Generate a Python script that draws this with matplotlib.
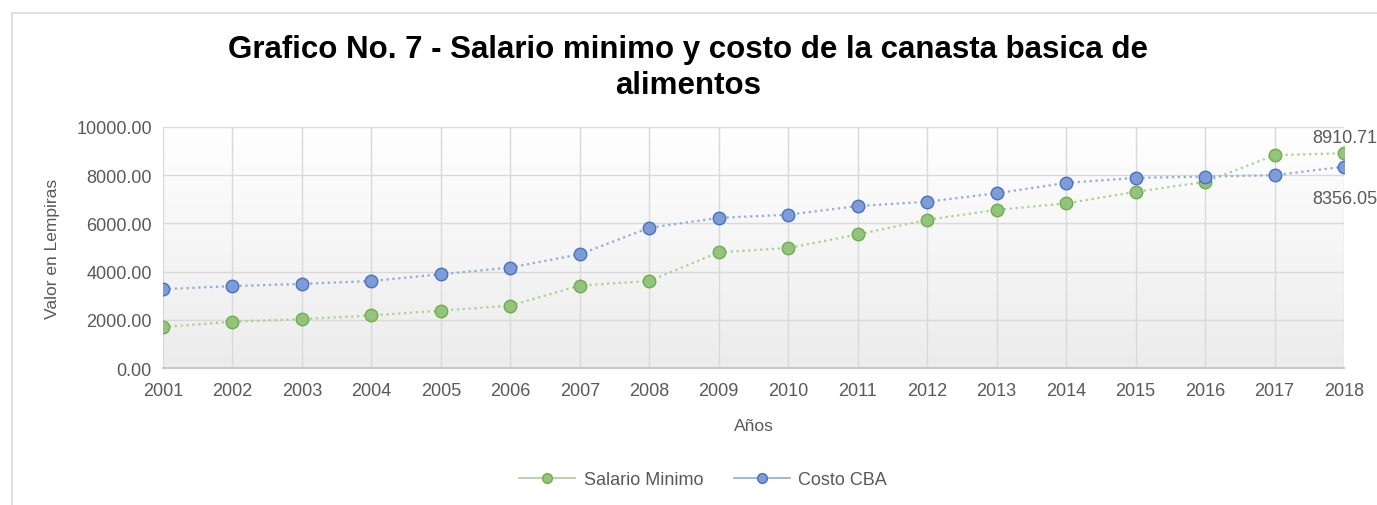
import numpy as np
import matplotlib
matplotlib.use("Agg")
import matplotlib.pyplot as plt
from matplotlib.patches import Rectangle
from matplotlib.lines import Line2D

# values
years = list(range(2001, 2019))
salario_minimo = [1700, 1920, 2030, 2180, 2380, 2590, 3420, 3610, 4800, 4980,
                  5540, 6150, 6560, 6830, 7310, 7720, 8830, 8910.71]
costo_cba = [3270, 3400, 3490, 3610, 3890, 4170, 4720, 5820, 6230, 6360,
             6720, 6900, 7250, 7680, 7890, 7940, 8000, 8356.05]
y_ticks = [0, 2000, 4000, 6000, 8000, 10000]

plt.rcParams['font.family'] = ['Liberation Sans', 'DejaVu Sans']

fig = plt.figure(figsize=(13.77, 5.06), dpi=100)
# chart border (cut off at the right and bottom, like the screenshot)
fig.patches.append(Rectangle((12 / 1377, -0.1), 1.1, 1 - 14 / 506 + 0.1,
                             transform=fig.transFigure, fill=False,
                             edgecolor='#d9d9d9', linewidth=1.2))

ax = fig.add_axes([163 / 1377, 1 - 369 / 506, (1344 - 163) / 1377, (369 - 128) / 506])

# plot area gradient, white on top to light grey at the bottom
grad = np.linspace(1.0, 0.0, 256).reshape(-1, 1)
ax.imshow(grad, extent=[0, 1, 0, 1], transform=ax.transAxes, aspect='auto',
          cmap=matplotlib.colors.LinearSegmentedColormap.from_list('g', ['#ececec', '#ffffff']),
          zorder=0)

ax.plot(years, salario_minimo, linestyle=':', color='#a9d18e', linewidth=1.6,
        marker='o', markersize=9, markerfacecolor='#93c47d', markeredgecolor='#70ad47',
        markeredgewidth=1, zorder=3)
ax.plot(years, costo_cba, linestyle=':', color='#8faadc', linewidth=1.6,
        marker='o', markersize=9, markerfacecolor='#7f9bd8', markeredgecolor='#4472c4',
        markeredgewidth=1, zorder=3)

# last-point data labels, kept just inside the right edge
ax.annotate(f'{salario_minimo[-1]:.2f}', (years[-1], salario_minimo[-1]),
            xytext=(-23, 8), textcoords='offset points', fontsize=13,
            color='#595959', annotation_clip=False)
ax.annotate(f'{costo_cba[-1]:.2f}', (years[-1], costo_cba[-1]),
            xytext=(-23, -26), textcoords='offset points', fontsize=13,
            color='#595959', annotation_clip=False)

ax.set_xlim(years[0], years[-1])
ax.set_ylim(0, 10000)
ax.set_xticks(years)
ax.set_yticks(y_ticks)
ax.set_yticklabels([f'{v:.2f}' for v in y_ticks])
ax.tick_params(length=0, labelsize=13, labelcolor='#595959')
ax.tick_params(axis='x', pad=10)
ax.tick_params(axis='y', pad=8)
ax.grid(True, color='#d9d9d9', linewidth=1)
ax.set_axisbelow(True)
for s in ['top', 'right', 'left']:
    ax.spines[s].set_visible(False)
ax.spines['bottom'].set_color('#c8c8c8')
ax.spines['bottom'].set_linewidth(1.5)

ax.set_xlabel('Años', fontsize=12.5, color='#595959', labelpad=14)
ax.set_ylabel('Valor en Lempiras', fontsize=12.5, color='#595959', labelpad=12)

fig.text(0.5, 1 - 68 / 506, 'Grafico No. 7 - Salario minimo y costo de la canasta basica de\nalimentos',
         ha='center', va='center', fontsize=22.5, fontweight='bold', color='black',
         linespacing=1.3)

handles = [
    Line2D([], [], color='#a9d18e', linewidth=1.2, marker='o', markersize=7,
           markerfacecolor='#93c47d', markeredgecolor='#70ad47'),
    Line2D([], [], color='#8faadc', linewidth=1.2, marker='o', markersize=7,
           markerfacecolor='#7f9bd8', markeredgecolor='#4472c4'),
]
fig.legend(handles, ['Salario Minimo', 'Costo CBA'], loc='center',
           bbox_to_anchor=(703 / 1377, 1 - 481 / 506), ncol=2, frameon=False,
           fontsize=13, labelcolor='#595959', handlelength=3.1, handletextpad=0.45,
           columnspacing=1.7)

fig.savefig('out.png', dpi=100)
